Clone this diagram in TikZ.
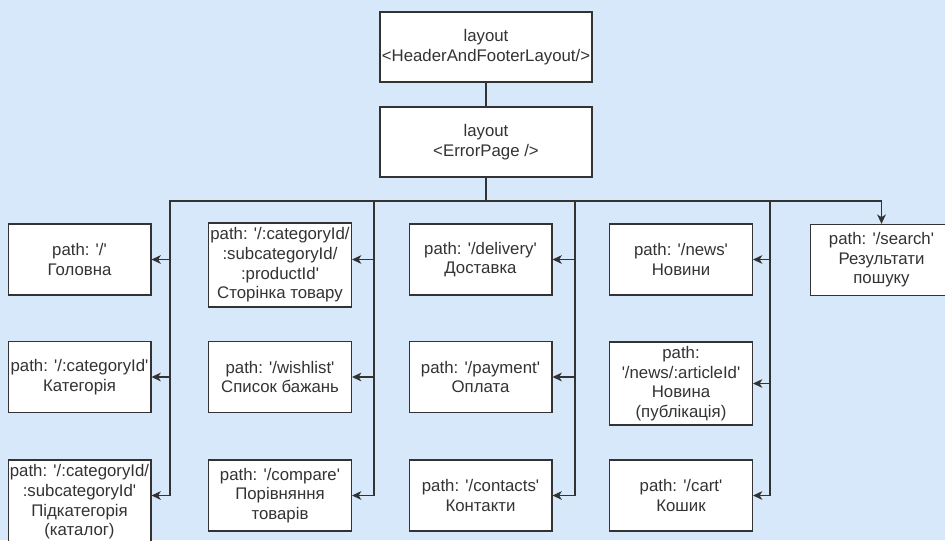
\documentclass[tikz,border=0pt]{standalone}
\usepackage{fontspec}
\setmainfont{Liberation Sans}[Ligatures=TeXOff]
\usetikzlibrary{arrows.meta}

\definecolor{pagebg}{HTML}{D6E8F9}
\definecolor{ink}{HTML}{333333}

\begin{document}
\begin{tikzpicture}[x=0.75pt, y=-0.75pt,
    font=\fontsize{12.6}{14.7}\selectfont,
    route/.style={draw=ink, fill=white, line width=1pt, text=ink, align=center,
      inner sep=0pt, minimum width=107pt, minimum height=53.25pt},
    tall/.style={route, minimum height=63pt},
    wide/.style={route, minimum width=159pt, minimum height=52.5pt},
    link/.style={draw=ink, line width=1pt, -{Stealth[length=7pt, width=6.5pt, inset=2pt]}},
    trunk/.style={draw=ink, line width=1pt}]
    % page
    \clip (0,0) rectangle (945,540);
    \fill[pagebg] (0,0) rectangle (945,540);

    % layouts
    \node[wide] (root) at (486,47) {layout\\<HeaderAndFooterLayout/>};
    \node[wide] (err) at (486,142) {layout\\<ErrorPage />};
    \draw[trunk] (root) -- (err);

    % bus points above the columns
    \coordinate (t1) at (170,201);
    \coordinate (t2) at (374,201);
    \coordinate (t3) at (575,201);
    \coordinate (t4) at (770,201);
    \coordinate (t5) at (881.5,201);

    % column 1
    \node[route] (home) at (79.5,259.5) {path: '/'\\Головна};
    \node[route] (category) at (79.5,377) {path: '/:categoryId'\\Категорія};
    \node[tall] (subcategory) at (79.5,502) {path: '/:categoryId/\\:subcategoryId'\\Підкатегорія\\(каталог)};

    % column 2
    \node[tall] (product) at (280,265) {path: '/:categoryId/\\:subcategoryId/\\:productId'\\Сторінка товару};
    \node[route] (wishlist) at (280,377) {path: '/wishlist'\\Список бажань};
    \node[route] (compare) at (280,495.5) {path: '/compare'\\Порівняння\\товарів};

    % column 3
    \node[route] (delivery) at (480.5,259.5) {path: '/delivery'\\Доставка};
    \node[route] (payment) at (480.5,377) {path: '/payment'\\Оплата};
    \node[route] (contacts) at (480.5,495.5) {path: '/contacts'\\Контакти};

    % column 4
    \node[route] (news) at (681,259.5) {path: '/news'\\Новини};
    \node[tall, minimum height=62.25pt] (article) at (681,383.5) {path:\\'/news/:articleId'\\Новина\\(публікація)};
    \node[route] (cart) at (681,495.5) {path: '/cart'\\Кошик};

    % column 5
    \node[route] (search) at (881.5,260) {path: '/search'\\Результати\\пошуку};

    % edges
    \draw[link] (err.south) |- (t1) |- (home.east);
    \draw[link] (err.south) |- (t1) |- (category.east);
    \draw[link] (err.south) |- (t1) |- (subcategory.east |- compare.east);
    \draw[link] (err.south) |- (t2) |- (product.east |- home.east);
    \draw[link] (err.south) |- (t2) |- (wishlist.east);
    \draw[link] (err.south) |- (t2) |- (compare.east);
    \draw[link] (err.south) |- (t3) |- (delivery.east);
    \draw[link] (err.south) |- (t3) |- (payment.east);
    \draw[link] (err.south) |- (t3) |- (contacts.east);
    \draw[link] (err.south) |- (t4) |- (news.east);
    \draw[link] (err.south) |- (t4) |- (article.east);
    \draw[link] (err.south) |- (t4) |- (cart.east);
    \draw[link] (err.south) |- (t5) -- (search.north);
\end{tikzpicture}
\end{document}
